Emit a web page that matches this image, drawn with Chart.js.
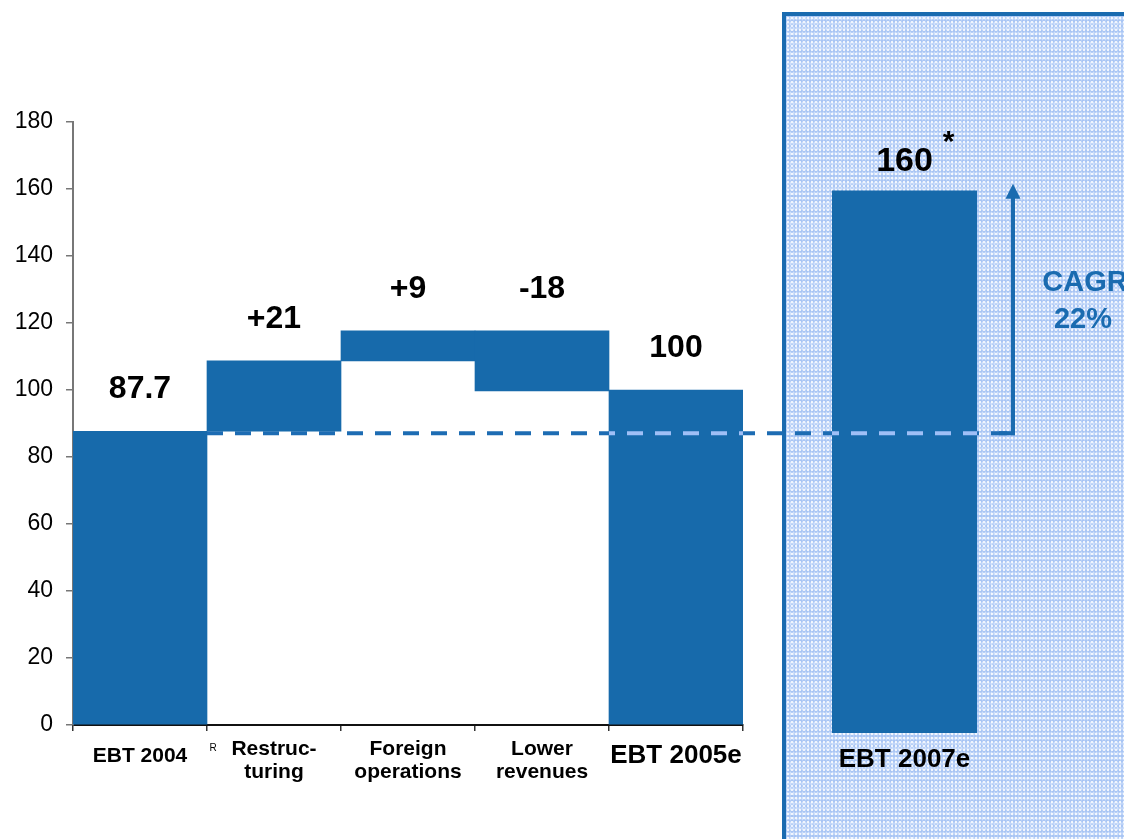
<!DOCTYPE html>
<html>
<head>
<meta charset="utf-8">
<title>EBT bridge</title>
<script src="https://cdn.jsdelivr.net/npm/chart.js@4.4.0/dist/chart.umd.min.js"></script>
<style>
  html, body { margin: 0; padding: 0; background: #fff; overflow: hidden; }
  #wrap { position: relative; width: 1124px; height: 839px; overflow: hidden; }
  #panel {
    position: absolute; left: 782px; top: 12px; width: 420px; height: 900px;
    border: 4px solid #1a6bb0;
    background-color: #a9c5f4;
    background-image:
      radial-gradient(rgba(255,255,255,0.8) 0.9px, transparent 1.5px),
      radial-gradient(rgba(235,243,255,0.6) 0.8px, transparent 1.4px);
    background-size: 4px 4px, 3px 5px;
  }
  canvas { position: absolute; left: 0; top: 0; }
</style>
</head>
<body>
<div id="wrap">
  <div id="panel"></div>
  <canvas id="bridgeChart" width="1124" height="839"></canvas>
  <canvas id="outlookChart" width="1124" height="839"></canvas>
</div>
<script>
// EBT bridge 2004 -> 2005e, plus the 2007e outlook bar
var categories = ['EBT 2004', ['Restruc-', 'turing'], ['Foreign', 'operations'], ['Lower', 'revenues'], 'EBT 2005e'];
var ebt2004 = 87.7;
var bridgeSteps = [21, 9, -18];
var ebt2005e = 100;
var outlookCategory = 'EBT 2007e';
var ebt2007e = 160;
var cagrLines = ['CAGR', '22%'];
var yMin = 0;
var yMax = 180;
var yStep = 20;

var FONT = '"Liberation Sans", Arial, sans-serif';
var barColor = '#176aab';
var lineDark = '#1d6cb3';
var lineLight = '#9fbff6';

Chart.defaults.font.family = FONT;
Chart.defaults.color = '#000';

// floating ranges for the waterfall
var ranges = [[0, ebt2004]];
var valueLabels = [String(ebt2004)];
var level = ebt2004;
bridgeSteps.forEach(function(step) {
    var next = Math.round((level + step) * 10) / 10;
    ranges.push([Math.min(level, next), Math.max(level, next)]);
    valueLabels.push((step > 0 ? '+' : '') + step);
    level = next;
});
ranges.push([0, ebt2005e]);
valueLabels.push(String(ebt2005e));

var bridgeLabels = {
    id: 'bridgeLabels',
    afterDraw: function(chart) {
        var ctx = chart.ctx;
        var ys = chart.scales.y;
        var bars = chart.getDatasetMeta(0).data;
        ctx.save();
        ctx.fillStyle = '#000';
        ctx.textAlign = 'center';
        ctx.textBaseline = 'middle';

        // values above each bar
        ctx.font = 'bold 32px ' + FONT;
        ranges.forEach(function(r, i) {
            ctx.fillText(valueLabels[i], bars[i].x, ys.getPixelForValue(r[1]) - 42);
        });

        // category names under the axis
        categories.forEach(function(name, i) {
            var x = bars[i].x;
            if (Array.isArray(name)) {
                ctx.font = 'bold 21px ' + FONT;
                ctx.fillText(name[0], x, ys.bottom + 24);
                ctx.fillText(name[1], x, ys.bottom + 47);
            } else {
                ctx.font = (i === categories.length - 1 ? 'bold 26px ' : 'bold 21px ') + FONT;
                ctx.fillText(name, x, ys.bottom + 31);
            }
        });

        // small stray 'R' next to Restructuring
        ctx.font = '10px ' + FONT;
        ctx.fillText('R', bars[1].x - bars[1].width / 2 + 6, ys.bottom + 23);
        ctx.restore();
    }
};

var bridgeChart = new Chart(document.getElementById('bridgeChart'), {
    type: 'bar',
    data: {
        labels: categories,
        datasets: [{
            data: ranges,
            backgroundColor: barColor,
            borderWidth: 0,
            categoryPercentage: 1,
            barPercentage: 1
        }]
    },
    options: {
        responsive: false,
        animation: false,
        layout: { padding: { left: 0, right: 381, top: 122, bottom: 0 } },
        plugins: { legend: { display: false }, tooltip: { enabled: false } },
        scales: {
            x: {
                grid: { drawOnChartArea: false, tickLength: 6, color: '#333', lineWidth: 1.5, offset: true },
                border: { color: '#111', width: 2 },
                ticks: { display: false },
                afterFit: function(scale) { scale.height = 114; }
            },
            y: {
                min: yMin,
                max: yMax,
                grid: { drawOnChartArea: false, tickLength: 7, color: '#777', lineWidth: 1.5 },
                border: { color: '#777', width: 2 },
                ticks: { stepSize: yStep, padding: 13, font: { size: 23 }, color: '#000' },
                afterFit: function(scale) { scale.width = 73; }
            }
        }
    },
    plugins: [bridgeLabels]
});

var outlookOverlay = {
    id: 'outlookOverlay',
    afterDraw: function(chart) {
        var ctx = chart.ctx;
        var ca = chart.chartArea;
        var ys = chart.scales.y;
        var bar = chart.getDatasetMeta(0).data[0];
        var leftBars = bridgeChart.getDatasetMeta(0).data;
        var lineY = bridgeChart.scales.y.getPixelForValue(ebt2004) + 2;
        var x1 = leftBars[1].x - leftBars[1].width / 2;
        var arrowX = ca.right + 36;
        var tipY = ys.getPixelForValue(ebt2007e) - 7;

        ctx.save();
        // dashed reference line at the 2004 level
        ctx.lineWidth = 4;
        ctx.setLineDash([16, 12]);
        ctx.beginPath();
        ctx.moveTo(x1, lineY);
        ctx.lineTo(arrowX, lineY);
        ctx.strokeStyle = lineDark;
        ctx.stroke();

        // lighter dashes where the line crosses a bar
        var crossed = [leftBars[4], bar];
        crossed.forEach(function(b) {
            ctx.save();
            ctx.beginPath();
            ctx.rect(b.x - b.width / 2, Math.min(b.y, b.base), b.width, Math.abs(b.base - b.y));
            ctx.clip();
            ctx.beginPath();
            ctx.moveTo(x1, lineY);
            ctx.lineTo(arrowX, lineY);
            ctx.strokeStyle = lineLight;
            ctx.stroke();
            ctx.restore();
        });

        // CAGR arrow
        ctx.setLineDash([]);
        ctx.strokeStyle = '#1a6bb0';
        ctx.fillStyle = '#1a6bb0';
        ctx.beginPath();
        ctx.moveTo(arrowX - 14, lineY);
        ctx.lineTo(arrowX + 2, lineY);
        ctx.stroke();
        ctx.beginPath();
        ctx.moveTo(arrowX, lineY + 2);
        ctx.lineTo(arrowX, tipY + 12);
        ctx.stroke();
        ctx.beginPath();
        ctx.moveTo(arrowX, tipY);
        ctx.lineTo(arrowX - 7.5, tipY + 15);
        ctx.lineTo(arrowX + 7.5, tipY + 15);
        ctx.closePath();
        ctx.fill();

        var midY = (lineY + tipY) / 2;
        ctx.textAlign = 'center';
        ctx.textBaseline = 'middle';
        ctx.font = 'bold 29px ' + FONT;
        ctx.fillText(cagrLines[0], arrowX + 72, midY - 25);
        ctx.fillText(cagrLines[1], arrowX + 70, midY + 12);

        // value and category of the outlook bar
        ctx.fillStyle = '#000';
        var labelY = ys.getPixelForValue(ebt2007e) - 29;
        ctx.font = 'bold 34px ' + FONT;
        ctx.fillText(String(ebt2007e), bar.x, labelY);
        ctx.font = 'bold 30px ' + FONT;
        ctx.fillText('*', bar.x + 44, labelY - 19);
        ctx.font = 'bold 26px ' + FONT;
        ctx.fillText(outlookCategory, bar.x, ca.bottom + 27);
        ctx.restore();
    }
};

var outlookChart = new Chart(document.getElementById('outlookChart'), {
    type: 'bar',
    data: {
        labels: [outlookCategory],
        datasets: [{
            data: [ebt2007e],
            backgroundColor: barColor,
            borderWidth: 0,
            categoryPercentage: 1,
            barPercentage: 1
        }]
    },
    options: {
        responsive: false,
        animation: false,
        layout: { padding: { left: 832, right: 147, top: 123, bottom: 106 } },
        plugins: { legend: { display: false }, tooltip: { enabled: false } },
        scales: {
            x: { display: false },
            y: { display: false, min: yMin, max: yMax }
        }
    },
    plugins: [outlookOverlay]
});
</script>
</body>
</html>
